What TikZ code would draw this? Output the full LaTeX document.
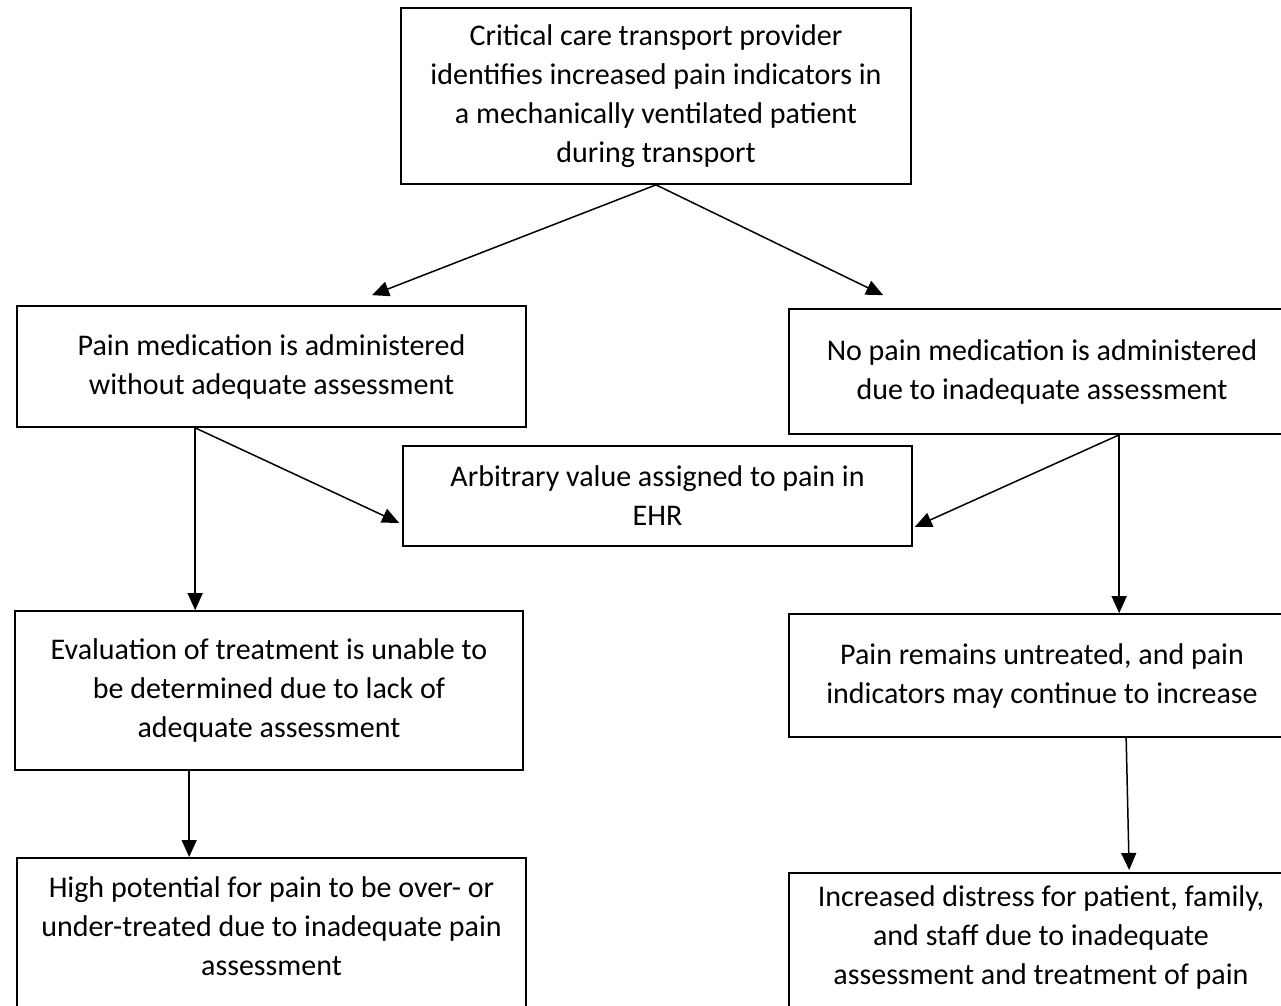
\documentclass[tikz,border=0pt]{standalone}
\usepackage{fontspec}
\setmainfont{Carlito}
\usetikzlibrary{calc, positioning}
\usetikzlibrary{arrows.meta}

\tikzset{
  box/.style={draw, line width=1.7pt, inner sep=0pt, align=center,
    font=\fontsize{30}{39}\selectfont},
  txt/.style={inner sep=0pt, align=center, font=\fontsize{30}{39}\selectfont},
  arr/.style={line width=1.5pt, -{Triangle[length=17pt,width=15pt]}}
}

\begin{document}
\begin{tikzpicture}[x=1pt, y=-1pt]
\useasboundingbox (0,0) rectangle (1281,1005);
\clip (0,0) rectangle (1281,1005);

% boxes
\node[box, minimum width=510, minimum height=176] (start) at (656,96)
  {Critical care transport provider\\identifies increased pain indicators in\\a mechanically ventilated patient\\during transport};
\node[box, minimum width=509, minimum height=121] (given) at (271.5,366.5)
  {Pain medication is administered\\without adequate assessment};
\node[box, minimum width=506, minimum height=125] (notgiven) at (1042,371.5)
  {No pain medication is administered\\due to inadequate assessment};
\node[box, minimum width=509, minimum height=100] (ehr) at (657.5,496)
  {Arbitrary value assigned to pain in\\EHR};
\node[box, minimum width=508, minimum height=159] (evaluation) at (269,690.5)
  {Evaluation of treatment is unable to\\be determined due to lack of\\adequate assessment};
\node[box, minimum width=506, minimum height=123] (untreated) at (1042,675.5)
  {Pain remains untreated, and pain\\indicators may continue to increase};
\node[box, minimum width=509, minimum height=200, anchor=north] (overunder) at (271.5,857) {};
\node[txt] (overunder-text) at (271.5,926)
  {High potential for pain to be over- or\\under-treated due to inadequate pain\\assessment};
\node[box, minimum width=506, minimum height=200, anchor=north] (distress) at (1042,872) {};
\node[txt] (distress-text) at (1041,937.5)
  {Increased distress for patient, family,\\and staff due to inadequate\\assessment and treatment of pain};

% arrow ends
\coordinate (G) at ($(given.north)+(100.5,-10)$);
\coordinate (N) at ($(notgiven.north west)+(95,-13)$);
\coordinate (A) at ($(given.south west)+(179,0)$);
\coordinate (B) at ($(notgiven.south west)+(331,0)$);
\coordinate (C) at ($(evaluation.south west)+(175,0)$);
\coordinate (D) at ($(untreated.south west)+(338,0)$);
\coordinate (E) at ($(ehr.south west)+(-3,-24)$);
\coordinate (F) at ($(ehr.south east)+(2,-20)$);

\draw[arr] (start.south) -- (G);
\draw[arr] (start.south) -- (N);
\draw[arr] (A) -- (A |- evaluation.north);
\draw[arr] (A) -- (E);
\draw[arr] (B) -- (B |- untreated.north);
\draw[arr] (B) -- (F);
\draw[arr] (C) -- (C |- overunder.north);
\draw[arr] (D) -- ($(distress.north west)+(341,-2)$);
\end{tikzpicture}
\end{document}
